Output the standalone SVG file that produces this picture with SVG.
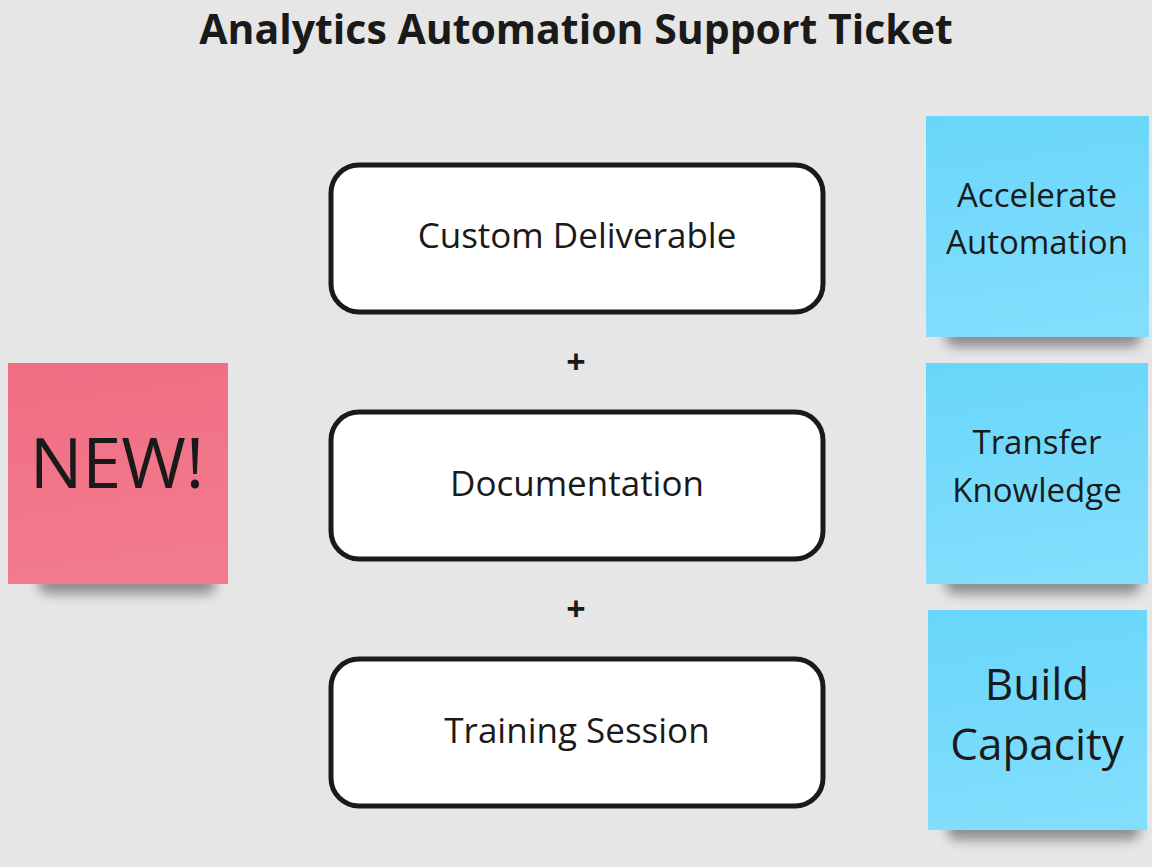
<svg xmlns="http://www.w3.org/2000/svg" width="1152" height="867" viewBox="0 0 1152 867">
<defs>
<style>
.box{fill:#ffffff;stroke:#1a1a1a;stroke-width:5}
.t{font-family:"Open Sans","Liberation Sans",sans-serif;fill:#1a1a1a;text-anchor:middle}
.lbl{font-size:35px}
.plus{font-size:34px;font-weight:bold}
.sn{font-size:33px}
.shd{fill:#000;opacity:0.38}
</style>
<linearGradient id="gb" x1="0" y1="0" x2="0.15" y2="1">
<stop offset="0" stop-color="#68d6fa"/>
<stop offset="1" stop-color="#82defd"/>
</linearGradient>
<linearGradient id="gp" x1="0" y1="0" x2="0.15" y2="1">
<stop offset="0" stop-color="#f06d82"/>
<stop offset="1" stop-color="#f37b8e"/>
</linearGradient>
<filter id="sh" x="-20%" y="-100%" width="140%" height="300%">
<feGaussianBlur stdDeviation="6"/>
</filter>
</defs>
<rect width="1152" height="867" fill="#e6e6e6"/>
<text class="t" x="576" y="44" style="font-size:41px;font-weight:bold">Analytics Automation Support Ticket</text>

<g id="new">
<rect class="shd" x="38" y="572" width="178" height="22" rx="10" filter="url(#sh)"/>
<rect x="8" y="363" width="220" height="221" fill="url(#gp)"/>
<text class="t" x="117" y="488" style="font-size:70px">NEW!</text>
</g>

<g id="accelerate">
<rect class="shd" x="945" y="325" width="196" height="22" rx="10" filter="url(#sh)"/>
<rect x="926" y="116" width="223" height="221" fill="url(#gb)"/>
<text class="t sn" x="1037" y="207">Accelerate</text>
<text class="t sn" x="1037" y="254">Automation</text>
</g>

<g id="transfer">
<rect class="shd" x="945" y="572" width="196" height="22" rx="10" filter="url(#sh)"/>
<rect x="926" y="363" width="222" height="221" fill="url(#gb)"/>
<text class="t sn" x="1037" y="454">Transfer</text>
<text class="t sn" x="1037" y="502">Knowledge</text>
</g>

<g id="build">
<rect class="shd" x="947" y="818" width="193" height="22" rx="10" filter="url(#sh)"/>
<rect x="928" y="610" width="219" height="220" fill="url(#gb)"/>
<text class="t" x="1037" y="700" style="font-size:44px">Build</text>
<text class="t" x="1037" y="760" style="font-size:44px">Capacity</text>
</g>

<g id="custom">
<rect class="box" x="331" y="165" width="492" height="147" rx="28"/>
<text class="t lbl" x="577" y="248">Custom Deliverable</text>
</g>
<g id="documentation">
<rect class="box" x="331" y="412" width="492" height="147" rx="28"/>
<text class="t lbl" x="577" y="496">Documentation</text>
</g>
<g id="training">
<rect class="box" x="331" y="659" width="492" height="147" rx="28"/>
<text class="t lbl" x="577" y="743">Training Session</text>
</g>

<g id="connectors">
<text class="t plus" x="576" y="374">+</text>
<text class="t plus" x="576" y="621">+</text>
</g>
</svg>
